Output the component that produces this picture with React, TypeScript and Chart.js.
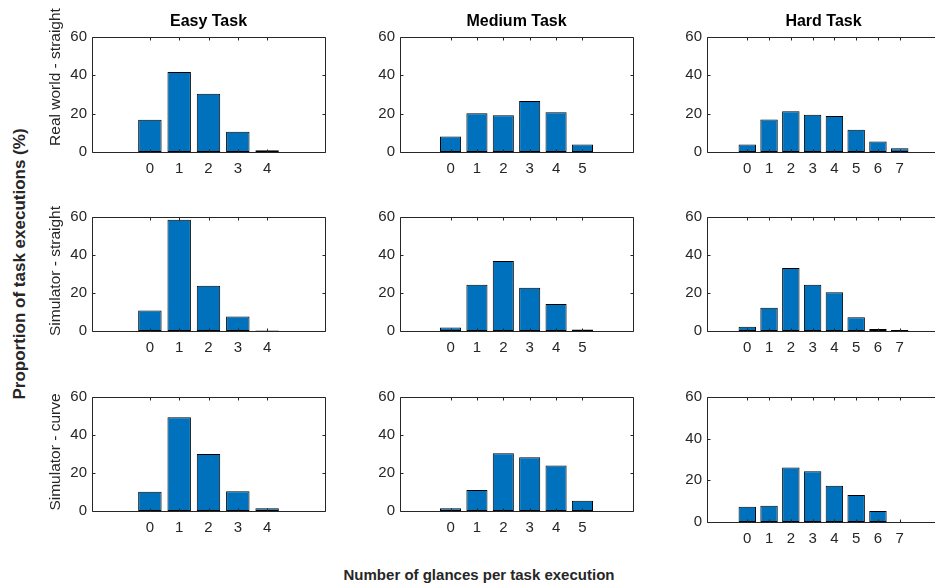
import React, { useEffect, useRef } from 'react';
import { Chart, registerables } from 'chart.js';

Chart.register(...registerables);

// ---- Data ----
const taskTitles = ['Easy Task', 'Medium Task', 'Hard Task'];
const conditionLabels = ['Real world - straight', 'Simulator - straight', 'Simulator - curve'];
const yAxisLabel = 'Proportion of task executions (%)';
const xAxisLabel = 'Number of glances per task execution';

const glancesEasy = [0, 1, 2, 3, 4];
const glancesMedium = [0, 1, 2, 3, 4, 5];
const glancesHard = [0, 1, 2, 3, 4, 5, 6, 7];
const yTickValues = [0, 20, 40, 60];

const realEasy = [16.8, 41.8, 30.4, 10.6, 0.9];
const realMedium = [8.1, 20.2, 19.2, 26.6, 20.8, 3.9];
const realHard = [3.9, 17.0, 21.2, 19.5, 18.8, 11.6, 5.5, 2.0];

const simStraightEasy = [10.8, 58.5, 23.8, 7.6, 0.3];
const simStraightMedium = [1.8, 24.3, 36.9, 22.8, 14.2, 0.8];
const simStraightHard = [2.2, 12.3, 33.2, 24.4, 20.4, 7.2, 1.0, 0.5];

const simCurveEasy = [10.1, 49.4, 30.0, 10.4, 1.5];
const simCurveMedium = [1.5, 11.1, 30.4, 28.3, 23.9, 5.4];
const simCurveHard = [7.3, 7.8, 26.2, 24.4, 17.4, 13.0, 5.3, 0];

// ---- Layout ----
const FONT = '"Liberation Sans", Arial, Helvetica, sans-serif';
const TEXT = '#262626';
const BAR = '#0072BD';
const TICK_SIZE = 15;
const YW = 48;
const PAD_T = 10;
const PAD_R = 6;
const XH = 30;
const colLeft = [92, 400, 707];
const plotW = 233;
const rowTop = [33, 213, 393];
const rowH = [119, 118, 118];
const margin = 1.18;

const boxPlugin = {
  id: 'matlabBox',
  afterDatasetsDraw(chart: any) {
    const { ctx, chartArea: a, scales } = chart;
    const xs = scales.x;
    const ys = scales.y;
    const L = Math.round(a.left) + 0.5;
    const R = Math.round(a.right) + 0.5;
    const T = Math.round(a.top) + 0.5;
    const B = Math.round(a.bottom) + 0.5;
    ctx.save();
    ctx.strokeStyle = TEXT;
    ctx.lineWidth = 1;
    ctx.beginPath();
    ctx.rect(L, T, R - L, B - T);
    ctx.stroke();
    const tl = 3;
    ctx.beginPath();
    xs.ticks.forEach((t: any) => {
      const px = Math.round(xs.getPixelForValue(t.value)) + 0.5;
      ctx.moveTo(px, B);
      ctx.lineTo(px, B - tl);
      ctx.moveTo(px, T);
      ctx.lineTo(px, T + tl);
    });
    ys.ticks.forEach((t: any) => {
      const py = Math.round(ys.getPixelForValue(t.value)) + 0.5;
      ctx.moveTo(L, py);
      ctx.lineTo(L + tl, py);
      ctx.moveTo(R, py);
      ctx.lineTo(R - tl, py);
    });
    ctx.stroke();
    ctx.restore();
  },
};

type SubProps = {
  glances: number[];
  values: number[];
  left: number;
  top: number;
  height: number;
};

function SubPlot({ glances, values, left, top, height }: SubProps) {
  const ref = useRef<HTMLCanvasElement | null>(null);
  useEffect(() => {
    if (!ref.current) return;
    const xMin = glances[0] - margin;
    const xMax = glances[glances.length - 1] + margin;
    const chart = new Chart(ref.current, {
      type: 'bar',
      data: {
        datasets: [
          {
            data: glances.map((g, i) => ({ x: g, y: values[i] })),
            backgroundColor: BAR,
            borderColor: '#000000',
            borderWidth: 1,
            borderSkipped: false,
            barPercentage: 0.8,
            categoryPercentage: 1,
          } as any,
        ],
      },
      options: {
        responsive: false,
        maintainAspectRatio: false,
        animation: false,
        devicePixelRatio: 1,
        layout: { padding: { top: PAD_T, right: PAD_R, left: 0, bottom: 0 } },
        plugins: { legend: { display: false }, tooltip: { enabled: false }, title: { display: false } },
        scales: {
          x: {
            type: 'linear',
            min: xMin,
            max: xMax,
            grid: { display: false, drawTicks: false },
            border: { display: false },
            afterBuildTicks: (s: any) => {
              s.ticks = glances.map((v) => ({ value: v }));
            },
            afterFit: (s: any) => {
              s.height = XH;
            },
            ticks: {
              autoSkip: false,
              maxRotation: 0,
              padding: 8,
              color: TEXT,
              font: { family: FONT, size: TICK_SIZE },
              callback: (v: any) => String(v),
            },
          },
          y: {
            type: 'linear',
            min: 0,
            max: 60,
            grid: { display: false, drawTicks: false },
            border: { display: false },
            afterBuildTicks: (s: any) => {
              s.ticks = yTickValues.map((v) => ({ value: v }));
            },
            afterFit: (s: any) => {
              s.width = YW;
            },
            ticks: {
              padding: 5,
              color: TEXT,
              font: { family: FONT, size: TICK_SIZE },
              callback: (v: any) => String(v),
            },
          },
        },
      } as any,
      plugins: [boxPlugin],
    });
    return () => chart.destroy();
  }, [glances, values, height]);

  const cw = YW + plotW + PAD_R;
  const ch = PAD_T + height + XH;
  return (
    <canvas
      ref={ref}
      width={cw}
      height={ch}
      style={{ position: 'absolute', left: left - YW, top: top - PAD_T, width: cw, height: ch }}
    />
  );
}

const grid: { glances: number[]; values: number[] }[][] = [
  [
    { glances: glancesEasy, values: realEasy },
    { glances: glancesMedium, values: realMedium },
    { glances: glancesHard, values: realHard },
  ],
  [
    { glances: glancesEasy, values: simStraightEasy },
    { glances: glancesMedium, values: simStraightMedium },
    { glances: glancesHard, values: simStraightHard },
  ],
  [
    { glances: glancesEasy, values: simCurveEasy },
    { glances: glancesMedium, values: simCurveMedium },
    { glances: glancesHard, values: simCurveHard },
  ],
];

const rowLabelY = [77, 271, 452];

export default function App() {
  const plots: React.ReactNode[] = [];
  grid.forEach((row, r) => {
    row.forEach((cell, c) => {
      const h = r === 2 && c === 2 ? 129 : rowH[r];
      plots.push(
        <SubPlot
          key={`${r}-${c}`}
          glances={cell.glances}
          values={cell.values}
          left={colLeft[c]}
          top={rowTop[r]}
          height={h}
        />
      );
    });
  });

  const centered: React.CSSProperties = {
    position: 'absolute',
    whiteSpace: 'nowrap',
    fontFamily: FONT,
    lineHeight: 1,
  };

  return (
    <div
      style={{
        position: 'fixed',
        left: 0,
        top: 0,
        width: 935,
        height: 586,
        overflow: 'hidden',
        background: '#ffffff',
      }}
    >
      {plots}
      {taskTitles.map((t, i) => (
        <div
          key={t}
          style={{
            ...centered,
            left: colLeft[i] + plotW / 2,
            top: 20.5,
            transform: 'translate(-50%, -50%)',
            fontSize: 16,
            fontWeight: 'bold',
            color: '#000',
          }}
        >
          {t}
        </div>
      ))}
      {conditionLabels.map((t, i) => (
        <div
          key={t}
          style={{
            ...centered,
            left: 55,
            top: rowLabelY[i],
            transform: 'translate(-50%, -50%) rotate(-90deg)',
            fontSize: 15.5,
            color: TEXT,
          }}
        >
          {t}
        </div>
      ))}
      <div
        style={{
          ...centered,
          left: 19,
          top: 264,
          transform: 'translate(-50%, -50%) rotate(-90deg)',
          fontSize: 17,
          fontWeight: 'bold',
          color: TEXT,
        }}
      >
        {yAxisLabel}
      </div>
      <div
        style={{
          ...centered,
          left: 479,
          top: 574,
          transform: 'translate(-50%, -50%)',
          fontSize: 15,
          fontWeight: 'bold',
          color: TEXT,
        }}
      >
        {xAxisLabel}
      </div>
    </div>
  );
}
